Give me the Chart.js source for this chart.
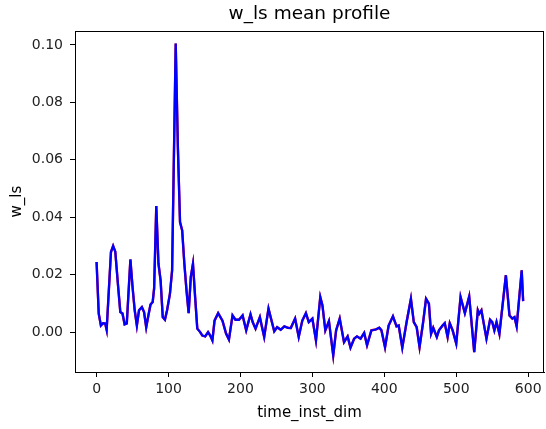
<!DOCTYPE html>
<html>
<head>
<meta charset="utf-8">
<script src="https://cdn.jsdelivr.net/npm/chart.js@4"></script>
<style>
  html, body { margin: 0; padding: 0; background: #fff; }
  #wrap { width: 546px; height: 429px; }
</style>
</head>
<body>
<div id="wrap"><canvas id="profile"></canvas></div>
<script>
// Data.
var timeInst = [0, 3, 6, 9, 12, 14, 20, 23, 26, 30, 33, 36, 39, 42, 47, 50, 53, 56, 59, 63,
    66, 69, 72, 75, 78, 80, 83, 86, 89, 92, 95, 98, 102, 105, 110, 113, 116, 119, 122, 125,
    128, 131, 134, 137, 140, 144, 147, 151, 155, 158, 161, 164, 169, 175, 180, 184, 189, 193, 198, 203,
    208, 214, 217, 221, 227, 233, 239, 242, 247, 251, 256, 261, 266, 270, 276, 281, 286, 291, 295, 300,
    305, 311, 314, 318, 323, 329, 333, 338, 344, 349, 353, 358, 362, 367, 372, 376, 382, 388, 393, 396,
    401, 406, 412, 417, 420, 425, 431, 437, 441, 445, 449, 454, 458, 462, 465, 468, 473, 476, 481, 484,
    488, 491, 495, 500, 506, 512, 518, 525, 530, 532, 535, 542, 547, 550, 553, 556, 560, 569, 574, 578,
    581, 584, 591, 593];
var wLs = [0.0244, 0.0064, 0.0023, 0.0031, 0.0030, 0.0008, 0.0279, 0.0300, 0.0280, 0.0157, 0.0070, 0.0065, 0.0027, 0.0030, 0.0253, 0.0157, 0.0076, 0.0023, 0.0076, 0.0087,
    0.0070, 0.0017, 0.0058, 0.0096, 0.0105, 0.0152, 0.0439, 0.0239, 0.0180, 0.0052, 0.0043, 0.0076, 0.0134, 0.0215, 0.1005, 0.0645, 0.0383, 0.0354, 0.0239, 0.0145,
    0.0066, 0.0192, 0.0238, 0.0122, 0.0012, 0.0000, -0.0012, -0.0015, 0.0000, -0.0012, -0.0029, 0.0040, 0.0066, 0.0040, -0.0005, -0.0026, 0.0058, 0.0043, 0.0043, 0.0058,
    0.0006, 0.0062, 0.0035, 0.0012, 0.0052, -0.0017, 0.0082, 0.0052, 0.0003, 0.0017, 0.0008, 0.0020, 0.0015, 0.0014, 0.0047, -0.0017, 0.0040, 0.0066, 0.0035, 0.0047,
    -0.0029, 0.0122, 0.0093, 0.0006, 0.0038, -0.0081, 0.0006, 0.0047, -0.0035, -0.0015, -0.0054, -0.0023, -0.0015, -0.0023, -0.0003, -0.0046, 0.0006, 0.0009, 0.0015, 0.0006,
    -0.0053, 0.0023, 0.0055, 0.0020, 0.0023, -0.0054, 0.0035, 0.0116, 0.0035, 0.0017, -0.0052, 0.0035, 0.0116, 0.0099, -0.0006, 0.0015, -0.0017, 0.0006, 0.0023, 0.0031,
    -0.0017, 0.0031, 0.0006, -0.0040, 0.0122, 0.0066, 0.0124, -0.0070, 0.0076, 0.0064, 0.0076, -0.0023, 0.0043, 0.0035, 0.0006, 0.0035, -0.0006, 0.0198, 0.0058, 0.0047,
    0.0052, 0.0020, 0.0215, 0.0108];
var xTicks = [0, 100, 200, 300, 400, 500, 600];
var yTicks = [0.00, 0.02, 0.04, 0.06, 0.08, 0.10];

var points = timeInst.map(function (t, i) { return { x: t, y: wLs[i] }; });

var font = 'DejaVu Sans';

// Box around the plot area, like matplotlib's spines.
// Also centre the title over the plot area instead of the whole canvas.
var frame = {
    id: 'frame',
    afterLayout: function (chart) {
        if (chart.titleBlock) {
            chart.titleBlock.left = chart.chartArea.left;
            chart.titleBlock.right = chart.chartArea.right;
        }
    },
    afterDatasetsDraw: function (chart) {
        var a = chart.chartArea, c = chart.ctx;
        c.save();
        c.strokeStyle = '#000';
        c.lineWidth = 1;
        c.strokeRect(Math.round(a.left) + 0.5, Math.round(a.top) + 0.5,
            Math.round(a.right - a.left) - 1, Math.round(a.bottom - a.top));
        c.restore();
    }
};

var ctx = document.getElementById('profile').getContext('2d');
var myChart = new Chart(ctx, {
    type: 'line',
    plugins: [frame],
    data: {
        // Chart.js paints the first dataset on top, so blue comes first.
        datasets: [{
            data: points,
            borderColor: 'blue',
            borderWidth: 2.3,
            pointRadius: 0,
            tension: 0
        }, {
            data: points,
            borderColor: 'red',
            borderWidth: 2.4,
            pointRadius: 0,
            tension: 0
        }]
    },
    options: {
        responsive: true,
        maintainAspectRatio: false,
        animation: false,
        layout: { padding: { left: 0, right: 2, top: 0, bottom: 0 } },
        plugins: {
            legend: { display: false },
            tooltip: { enabled: false },
            title: {
                display: true,
                text: 'w_ls mean profile',
                color: '#000',
                font: { family: font, size: 18.5, weight: 'normal' },
                padding: { top: 3, bottom: 6 }
            }
        },
        scales: {
            x: {
                type: 'linear',
                min: -30,
                max: 622,
                afterFit: function (s) { s.height = 57; },
                afterBuildTicks: function (s) { s.ticks = xTicks.map(function (v) { return { value: v }; }); },
                grid: { display: true, drawOnChartArea: false, drawTicks: true, tickLength: 5, color: '#000' },
                border: { display: true, color: '#000' },
                ticks: { color: '#222', padding: 4, maxRotation: 0, font: { family: font, size: 14 } },
                title: {
                    display: true,
                    text: 'time_inst_dim',
                    color: '#000',
                    font: { family: font, size: 15 },
                    padding: { top: 0, bottom: 7 }
                }
            },
            y: {
                type: 'linear',
                min: -0.0139,
                max: 0.1048,
                afterFit: function (s) { s.width = 75; },
                afterBuildTicks: function (s) { s.ticks = yTicks.map(function (v) { return { value: v }; }); },
                grid: { display: true, drawOnChartArea: false, drawTicks: true, tickLength: 5, color: '#000' },
                border: { display: true, color: '#000' },
                ticks: {
                    color: '#222',
                    padding: 7,
                    font: { family: font, size: 14 },
                    callback: function (v) { return v.toFixed(2); }
                },
                title: {
                    display: true,
                    text: 'w_ls',
                    color: '#000',
                    font: { family: font, size: 15 },
                    padding: { top: 8, bottom: 0 }
                }
            }
        }
    }
});
</script>
</body>
</html>
